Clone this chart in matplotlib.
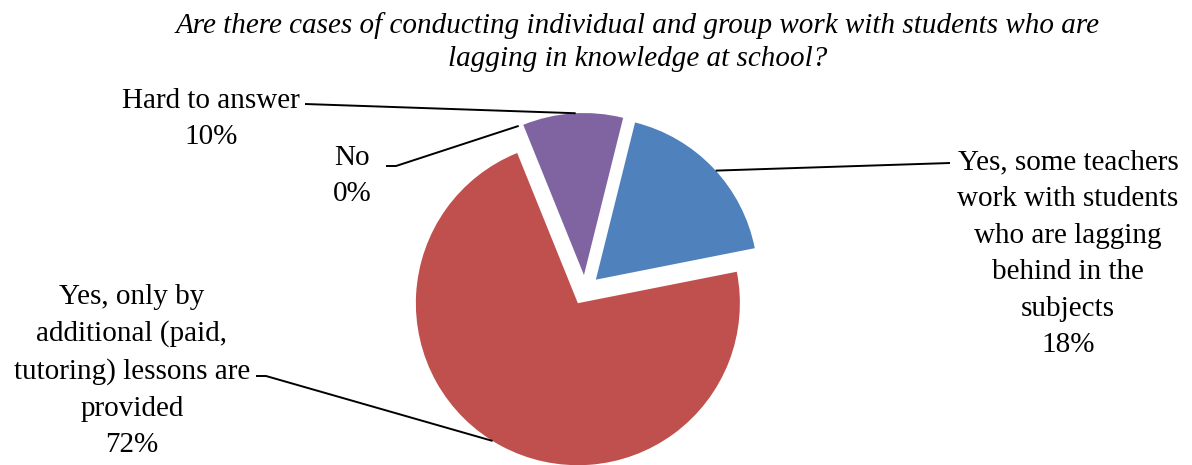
import numpy as np
import matplotlib.pyplot as plt

plt.rcParams['font.family'] = ['Liberation Serif', 'DejaVu Serif']

# survey answers, clockwise from the top
answers = ['Yes, some teachers\nwork with students\nwho are lagging\nbehind in the\nsubjects',
           'Yes, only by\nadditional (paid,\ntutoring) lessons are\nprovided',
           'No',
           'Hard to answer']
shares = [18, 72, 0, 10]
colors = ['#4F81BD', '#C0504D', '#9BBB59', '#8064A2']

title = ('Are there cases of conducting individual and group work with students who are\n'
         'lagging in knowledge at school?')

W, H = 1192, 465
fig = plt.figure(figsize=(W / 100, H / 100), dpi=100)
ax = fig.add_axes([0, 0, 1, 1])

R = 162
# explode is given in data units here (the radius is in pixels)
wedges, _ = ax.pie(shares, colors=colors, startangle=76, counterclock=False,
                   explode=[15] * 4, radius=R, center=(585, H - 290),
                   wedgeprops=dict(linewidth=0))
ax.set_xlim(0, W)
ax.set_ylim(0, H)
ax.set_aspect('equal')
ax.axis('off')


def arc_point(w, frac=0.5):
    a = np.deg2rad(w.theta1 + (w.theta2 - w.theta1) * frac)
    cx, cy = w.center
    return cx + w.r * np.cos(a), cy + w.r * np.sin(a)


# label centre, then the leader path from the label towards the slice
label_pos = [(1068, H - 254), (132, H - 371), (352, H - 176), (211, H - 119)]
leader = [[(950, H - 163)],
          [(256, H - 376), (266, H - 376)],
          [(386, H - 166), (396, H - 166)],
          [(305, H - 104)]]
anchor_frac = [0.48, 0.487, 0.5, 0.47]

for w, name, val, pos, path, f in zip(wedges, answers, shares, label_pos, leader, anchor_frac):
    ax.text(pos[0], pos[1], f'{name}\n{val}%', ha='center', va='center',
            fontsize=21, linespacing=1.53, color='black')
    pts = path + [arc_point(w, f)]
    xs, ys = zip(*pts)
    ax.plot(xs, ys, color='black', linewidth=1.4, solid_capstyle='butt')

fig.text(0.535, 1 - 42 / H, title, ha='center', va='center', fontsize=21,
         style='italic', linespacing=1.39)

fig.savefig('out.png', dpi=100)
